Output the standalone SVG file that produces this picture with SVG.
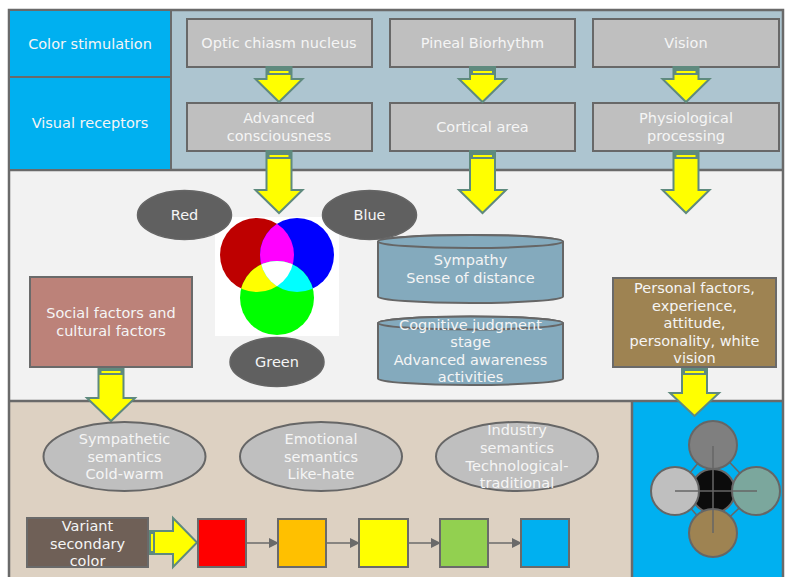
<svg xmlns="http://www.w3.org/2000/svg" width="786" height="577" viewBox="0 0 786 577">
<style>
text{font-family:"DejaVu Sans","Verdana",sans-serif;font-size:14.5px;fill:#F5F5F5;text-anchor:middle}
.box{fill:#BFBFBF;stroke:#686868;stroke-width:2}
.arr{fill:#FFFF00;stroke:#5F8A7E;stroke-width:2;stroke-linejoin:miter}
.band{fill:#5F8A7E}
.yl{fill:#FFFF00}
.lab{fill:#606060;stroke:#666;stroke-width:1.5}
.sem{fill:#BFBFBF;stroke:#666;stroke-width:2}
.cyl{fill:#84AABD;stroke:#666;stroke-width:2}
.sq{stroke:#6A6A6A;stroke-width:2}
.con{stroke:#6A6A6A;stroke-width:1.5;fill:none}
.sep{stroke:#6A6A6A;stroke-width:2.5;fill:none}
.ring{stroke:#666;stroke-width:2}
</style>
<defs>
<marker id="ah" markerWidth="10" markerHeight="10" refX="9" refY="5" orient="auto" markerUnits="userSpaceOnUse">
<path d="M0,0 L10,5 L0,10 Z" fill="#6A6A6A"/>
</marker>
<clipPath id="cRed"><circle cx="257" cy="255" r="37"/></clipPath>
<clipPath id="cBlue"><circle cx="297" cy="255" r="37"/></clipPath>
</defs>

<!-- background bands -->
<g id="bands">
<rect x="9" y="10" width="774" height="567" fill="#F2F2F2"/>
<rect x="171" y="10" width="612" height="160" fill="#ADC5D0"/>
<rect x="9" y="401" width="623" height="176" fill="#DDD1C2"/>
<rect x="632" y="401" width="151" height="176" fill="#00B0F0"/>
<line class="sep" x1="9" y1="170" x2="783" y2="170"/>
<line class="sep" x1="9" y1="401" x2="783" y2="401"/>
<line class="sep" x1="632" y1="401" x2="632" y2="577"/>
<rect x="9" y="10" width="774" height="570" fill="none" stroke="#6A6A6A" stroke-width="2.5"/>
</g>

<g id="color-stimulation">
<rect x="9" y="10" width="162" height="67" fill="#00B0F0" stroke="#6A6A6A" stroke-width="2"/>
<text x="90" y="48.5">Color stimulation</text>
</g>
<g id="visual-receptors">
<rect x="9" y="77" width="162" height="93" fill="#00B0F0" stroke="#6A6A6A" stroke-width="2"/>
<text x="90" y="128">Visual receptors</text>
</g>

<g id="optic">
<rect class="box" x="187" y="19" width="185" height="48"/>
<text x="279" y="48">Optic chiasm nucleus</text>
</g>
<g id="pineal">
<rect class="box" x="390" y="19" width="185" height="48"/>
<text x="482.5" y="48">Pineal Biorhythm</text>
</g>
<g id="vision">
<rect class="box" x="593" y="19" width="186" height="48"/>
<text x="686" y="48">Vision</text>
</g>
<g id="advanced">
<rect class="box" x="187" y="103" width="185" height="48"/>
<text x="279" y="123">Advanced</text>
<text x="279" y="141">consciousness</text>
</g>
<g id="cortical">
<rect class="box" x="390" y="103" width="185" height="48"/>
<text x="482.5" y="132">Cortical area</text>
</g>
<g id="physiological">
<rect class="box" x="593" y="103" width="186" height="48"/>
<text x="686" y="123">Physiological</text>
<text x="686" y="141">processing</text>
</g>

<!-- connectors -->
<g id="connectors">
<!-- top row arrows -->
<path class="arr" d="M266.5,67 H291.5 V79 H302.5 L279,102 L255.5,79 H266.5 Z"/>
<rect class="band" x="266.5" y="67" width="25" height="8"/><rect class="yl" x="269.5" y="71" width="19" height="2"/>
<path class="arr" d="M470,67 H495 V79 H506 L482.5,102 L459,79 H470 Z"/>
<rect class="band" x="470" y="67" width="25" height="8"/><rect class="yl" x="473" y="71" width="19" height="2"/>
<path class="arr" d="M673.5,67 H698.5 V79 H709.5 L686,102 L662.5,79 H673.5 Z"/>
<rect class="band" x="673.5" y="67" width="25" height="8"/><rect class="yl" x="676.5" y="71" width="19" height="2"/>
<!-- second row arrows -->
<path class="arr" d="M266.5,151 H291.5 V190 H302.5 L279,213 L255.5,190 H266.5 Z"/>
<rect class="band" x="266.5" y="151" width="25" height="8"/><rect class="yl" x="269.5" y="155" width="19" height="2"/>
<path class="arr" d="M470,151 H495 V190 H506 L482.5,213 L459,190 H470 Z"/>
<rect class="band" x="470" y="151" width="25" height="8"/><rect class="yl" x="473" y="155" width="19" height="2"/>
<path class="arr" d="M673.5,151 H698.5 V190 H709.5 L686,213 L662.5,190 H673.5 Z"/>
<rect class="band" x="673.5" y="151" width="25" height="8"/><rect class="yl" x="676.5" y="155" width="19" height="2"/>
<!-- social factors arrow -->
<path class="arr" d="M98.5,367 H123.5 V398 H135 L111,421 L87,398 H98.5 Z"/>
<rect class="band" x="98.5" y="367" width="25" height="8"/><rect class="yl" x="101.5" y="371" width="19" height="2"/>
<!-- personal factors arrow -->
<path class="arr" d="M682,367 H707 V393 H719 L694.5,416 L670,393 H682 Z"/>
<rect class="band" x="682" y="367" width="25" height="8"/><rect class="yl" x="685" y="371" width="19" height="2"/>
<!-- variant arrow -->
<path class="arr" d="M147,531 V554 H173 V567 L197,542.5 L173,518 V531 Z"/>
<rect class="band" x="147" y="531" width="8" height="23"/><rect class="yl" x="151" y="534" width="2" height="17"/>
<!-- square chain -->
<line class="con" x1="246" y1="543" x2="278" y2="543" marker-end="url(#ah)"/>
<line class="con" x1="326" y1="543" x2="359" y2="543" marker-end="url(#ah)"/>
<line class="con" x1="408" y1="543" x2="440" y2="543" marker-end="url(#ah)"/>
<line class="con" x1="488" y1="543" x2="521" y2="543" marker-end="url(#ah)"/>
</g>

<g id="rgb">
<rect x="215" y="217" width="124" height="119" fill="#FFFFFF"/>
<circle cx="257" cy="255" r="37" fill="#BE0000"/>
<circle cx="297" cy="255" r="37" fill="#0000FF"/>
<circle cx="277" cy="298" r="37" fill="#00FF00"/>
<circle cx="297" cy="255" r="37" fill="#FF00FF" clip-path="url(#cRed)"/>
<circle cx="277" cy="298" r="37" fill="#FFFF00" clip-path="url(#cRed)"/>
<circle cx="277" cy="298" r="37" fill="#00FFFF" clip-path="url(#cBlue)"/>
<g clip-path="url(#cBlue)"><circle cx="277" cy="298" r="37" fill="#FFFFFF" clip-path="url(#cRed)"/></g>
</g>

<g id="red">
<ellipse class="lab" cx="184.5" cy="215" rx="47" ry="24.5"/>
<text x="184.5" y="219.5">Red</text>
</g>
<g id="blue">
<ellipse class="lab" cx="369.5" cy="215" rx="47" ry="24.5"/>
<text x="369.5" y="219.5">Blue</text>
</g>
<g id="green">
<ellipse class="lab" cx="277" cy="362" rx="47" ry="24.5"/>
<text x="277" y="367">Green</text>
</g>

<g id="sympathy">
<path class="cyl" d="M378,241.5 V296.5 A92.5,6.5 0 0 0 563,296.5 V241.5 A92.5,6.5 0 0 0 378,241.5 Z"/>
<ellipse class="cyl" cx="470.5" cy="241.5" rx="92.5" ry="6.5"/>
<text x="470.5" y="265">Sympathy</text>
<text x="470.5" y="283">Sense of distance</text>
</g>
<g id="cognitive">
<path class="cyl" d="M378,323 V378.5 A92.5,6.5 0 0 0 563,378.5 V323 A92.5,6.5 0 0 0 378,323 Z"/>
<ellipse class="cyl" cx="470.5" cy="323" rx="92.5" ry="6.5"/>
<text x="470.5" y="330">Cognitive judgment</text>
<text x="470.5" y="347">stage</text>
<text x="470.5" y="364.5">Advanced awareness</text>
<text x="470.5" y="382">activities</text>
</g>

<g id="social">
<rect x="30" y="277" width="162" height="90" fill="#BC8279" stroke="#6A6A6A" stroke-width="2"/>
<text x="111" y="318">Social factors and</text>
<text x="111" y="336">cultural factors</text>
</g>

<g id="personal">
<rect x="613" y="278" width="163" height="89" fill="#9E8352" stroke="#6A6A6A" stroke-width="2"/>
<text x="694.5" y="293">Personal factors,</text>
<text x="694.5" y="310.5">experience,</text>
<text x="694.5" y="328">attitude,</text>
<text x="694.5" y="345.5">personality, white</text>
<text x="694.5" y="363">vision</text>
</g>

<g id="sympathetic-semantics">
<ellipse class="sem" cx="124.5" cy="456.5" rx="81" ry="34.5"/>
<text x="124.5" y="444">Sympathetic</text>
<text x="124.5" y="462">semantics</text>
<text x="124.5" y="479">Cold-warm</text>
</g>
<g id="emotional-semantics">
<ellipse class="sem" cx="321" cy="456.5" rx="81" ry="34.5"/>
<text x="321" y="444">Emotional</text>
<text x="321" y="462">semantics</text>
<text x="321" y="479">Like-hate</text>
</g>
<g id="industry-semantics">
<ellipse class="sem" cx="517" cy="456.5" rx="81" ry="34.5"/>
<text x="517" y="435">Industry</text>
<text x="517" y="453">semantics</text>
<text x="517" y="471">Technological-</text>
<text x="517" y="488">traditional</text>
</g>

<g id="variant">
<rect x="27" y="518" width="121" height="49" fill="#6F6057" stroke="#6A6A6A" stroke-width="2"/>
<text x="87.5" y="531">Variant</text>
<text x="87.5" y="549">secondary</text>
<text x="87.5" y="566">color</text>
</g>

<g id="sq-red"><rect class="sq" x="198" y="519" width="48" height="48" fill="#FF0000"/></g>
<g id="sq-orange"><rect class="sq" x="278" y="519" width="48" height="48" fill="#FFC000"/></g>
<g id="sq-yellow"><rect class="sq" x="359" y="519" width="49" height="48" fill="#FFFF00"/></g>
<g id="sq-green"><rect class="sq" x="440" y="519" width="48" height="48" fill="#92D050"/></g>
<g id="sq-blue"><rect class="sq" x="521" y="519" width="48" height="48" fill="#00B0F0"/></g>

<g id="vision-circles">
<g class="con" stroke="#666">
<path d="M713,445 L757,491 L713,533 L675,491 Z" stroke="#666" stroke-width="1.5" fill="none"/>
</g>
<circle class="ring" cx="713" cy="445" r="24" fill="#7F7F7F"/>
<circle class="ring" cx="713" cy="491" r="22" fill="#0C0C0C"/>
<circle class="ring" cx="675" cy="491" r="24" fill="#BFBFBF"/>
<circle class="ring" cx="756" cy="491" r="24" fill="#7BA79D"/>
<circle class="ring" cx="713" cy="533" r="24" fill="#9E8352"/>
<line x1="675" y1="491" x2="757" y2="491" stroke="#666" stroke-width="1.5"/>
<line x1="713" y1="446" x2="713" y2="533" stroke="#666" stroke-width="1.5"/>
</g>
</svg>
